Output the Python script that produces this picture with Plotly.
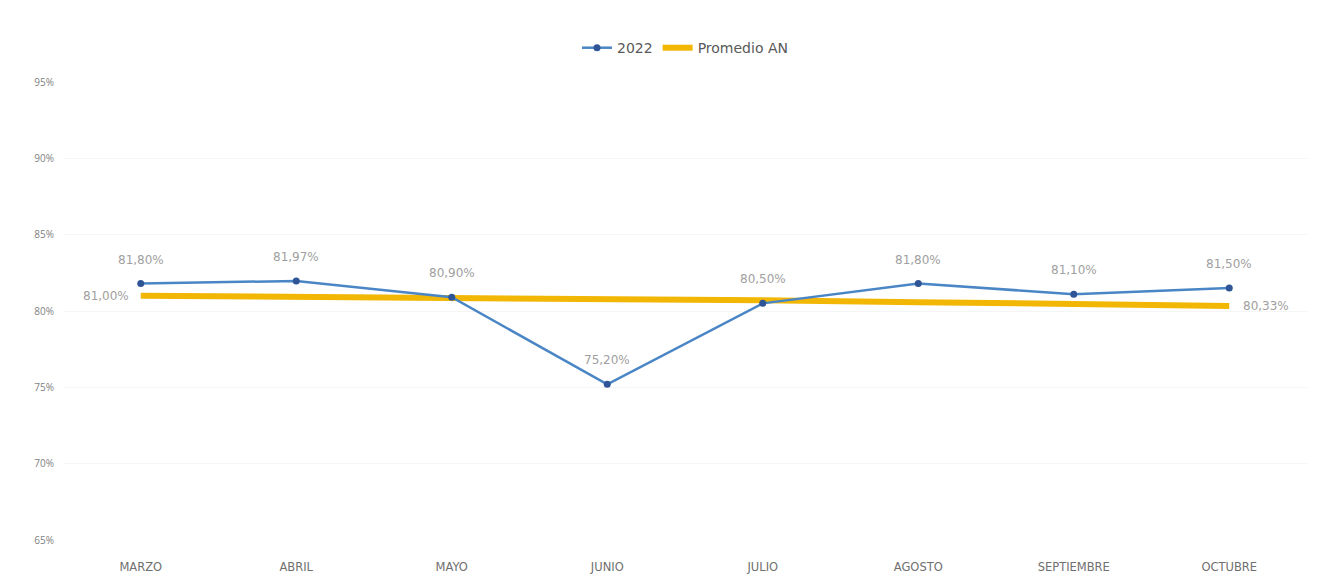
import plotly.graph_objects as go

months = ["MARZO", "ABRIL", "MAYO", "JUNIO", "JULIO", "AGOSTO", "SEPTIEMBRE", "OCTUBRE"]
serie_2022 = [81.80, 81.97, 80.90, 75.20, 80.50, 81.80, 81.10, 81.50]
promedio_an = [81.00, 80.95, 80.88, 80.80, 80.70, 80.58, 80.45, 80.33]
y_ticks = [65, 70, 75, 80, 85, 90, 95]

def pct(v):
    return f"{v:,.2f}%".replace(".", ",")

label_font = dict(color="#a0a0a0", size=12, family="DejaVu Sans")

fig = go.Figure()
fig.add_trace(go.Scatter(
    x=months, y=promedio_an, name="Promedio AN", mode="lines",
    line=dict(color="#F2B705", width=6),
))
fig.add_trace(go.Scatter(
    x=months, y=serie_2022, name="2022", mode="lines+markers",
    line=dict(color="#4A86C5", width=2.5),
    marker=dict(color="#2F5597", size=7),
))

for m, v in zip(months, serie_2022):
    fig.add_annotation(x=m, y=v, text=pct(v), showarrow=False, yshift=24,
                       font=label_font)
fig.add_annotation(x=months[0], y=promedio_an[0], text=pct(promedio_an[0]),
                   showarrow=False, xanchor="right", xshift=-10, font=label_font)
fig.add_annotation(x=months[-1], y=promedio_an[-1], text=pct(promedio_an[-1]),
                   showarrow=False, xanchor="left", xshift=12, font=label_font)

fig.update_layout(
    width=1319, height=588,
    paper_bgcolor="white", plot_bgcolor="white",
    margin=dict(l=55, r=20, t=74, b=56),
    font=dict(family="Open Sans", color="#7f7f7f", size=10),
    legend=dict(orientation="h", x=0.5, xanchor="center", y=1.074, yanchor="middle",
                traceorder="reversed",
                font=dict(size=14, color="#595959", family="DejaVu Sans")),
    showlegend=True,
)
fig.update_xaxes(
    range=[-0.5, len(months) - 0.5],
    showgrid=False, showline=False, zeroline=False,
    tickfont=dict(size=11.5, color="#6f6f6f", family="DejaVu Sans"),
    ticks="", ticklabelstandoff=18,
)
fig.update_yaxes(
    range=[65, 95], tickvals=y_ticks, ticktext=[f"{v}%" for v in y_ticks],
    showgrid=True, gridcolor="#f5f5f5", zeroline=False, showline=False,
    tickfont=dict(size=10, color="#7f7f7f"), ticklabelstandoff=8,
)

fig.write_html("out.html")
